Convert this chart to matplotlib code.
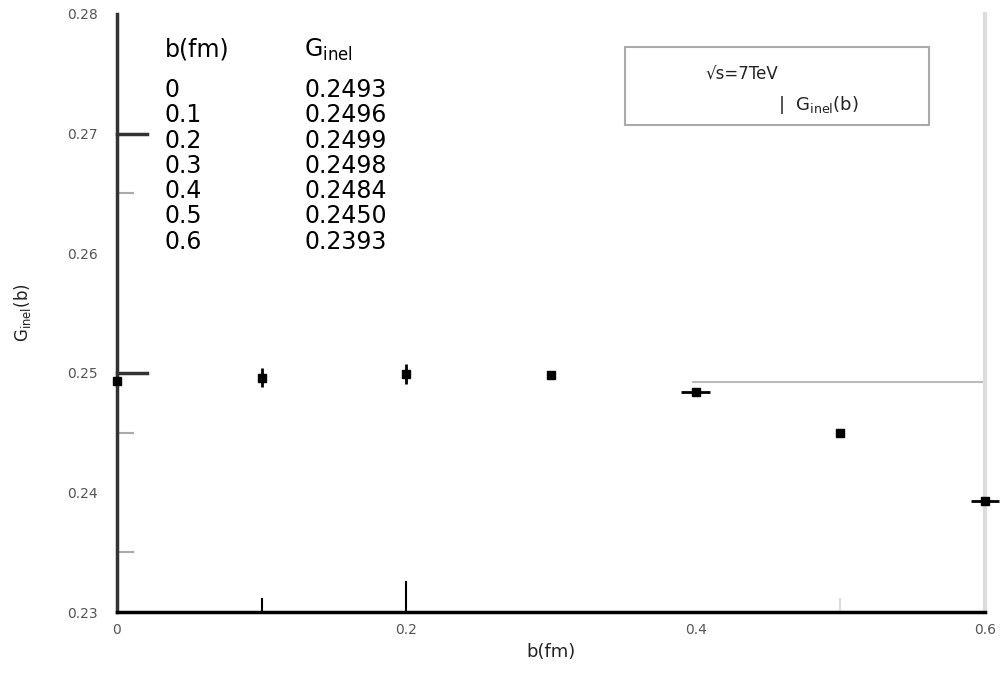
import matplotlib
matplotlib.use('Agg')
import matplotlib.pyplot as plt

# data
b = [0.0, 0.1, 0.2, 0.3, 0.4, 0.5, 0.6]
g_inel = [0.2493, 0.2496, 0.2499, 0.2498, 0.2484, 0.2450, 0.2393]
y_err = [0.0, 0.0008, 0.0008, 0.0, 0.0, 0.0, 0.0]
x_err = [0.0, 0.0, 0.0, 0.0, 0.01, 0.0, 0.01]
table_b = ["0", "0.1", "0.2", "0.3", "0.4", "0.5", "0.6"]
table_g = ["0.2493", "0.2496", "0.2499", "0.2498", "0.2484", "0.2450", "0.2393"]
y_ticks = [0.23, 0.24, 0.25, 0.26, 0.27, 0.28]
x_ticks = [0.0, 0.2, 0.4, 0.6]
x_tick_labels = ["0", "0.2", "0.4", "0.6"]

fig = plt.figure(figsize=(10.05, 6.73), dpi=100)
ax = fig.add_axes([0.1164, 0.0906, 0.8637, 0.8886])
ax.set_xlim(0, 0.6)
ax.set_ylim(0.23, 0.28)

# spines
ax.spines['top'].set_visible(False)
ax.spines['left'].set_color('#333333')
ax.spines['left'].set_linewidth(2.5)
ax.spines['bottom'].set_color('black')
ax.spines['bottom'].set_linewidth(2.5)
ax.spines['right'].set_color('#dddddd')
ax.spines['right'].set_linewidth(3)

# tick labels, marks drawn separately
ax.set_yticks(y_ticks)
ax.set_yticklabels([f"{v:.2f}" for v in y_ticks])
ax.set_xticks(x_ticks)
ax.set_xticklabels(x_tick_labels)
ax.tick_params(axis='both', length=0, labelsize=10, labelcolor='#555555')
ax.tick_params(axis='y', pad=14)
ax.tick_params(axis='x', pad=8)

ytr = ax.get_yaxis_transform()
xtr = ax.get_xaxis_transform()
for yv in [0.27, 0.25]:
    ax.plot([0, 0.035], [yv, yv], color='#333333', lw=2.5, transform=ytr, clip_on=False)
for yv in [0.265, 0.245, 0.235]:
    ax.plot([0, 0.018], [yv, yv], color='#aaaaaa', lw=1.5, transform=ytr, clip_on=False)
ax.plot([0.1, 0.1], [0, 0.022], color='black', lw=1.5, transform=xtr)
ax.plot([0.2, 0.2], [0, 0.05], color='black', lw=1.5, transform=xtr)
ax.plot([0.5, 0.5], [0, 0.022], color='#dddddd', lw=1.5, transform=xtr)

# stray gray line from the original scan
ax.plot([0.398, 0.6], [0.2492, 0.2492], color='#bbbbbb', lw=1.5)

ax.errorbar(b, g_inel, yerr=y_err, xerr=x_err, fmt='s', color='black',
            ms=6, elinewidth=2, capsize=0, clip_on=False, zorder=5)

ax.set_xlabel("b(fm)", fontsize=13, labelpad=4, color='#222222')
ax.set_ylabel(r"G$_{\rm inel}$(b)", fontsize=12, labelpad=24, color='#222222')

# value table
ax.text(0.055, 0.94, "b(fm)", transform=ax.transAxes, fontsize=17, va='center')
ax.text(0.216, 0.94, r"G$_{\mathrm{inel}}$", transform=ax.transAxes, fontsize=17, va='center')
row_y = 0.873
for bb, gg in zip(table_b, table_g):
    ax.text(0.055, row_y, bb, transform=ax.transAxes, fontsize=17, va='center')
    ax.text(0.216, row_y, gg, transform=ax.transAxes, fontsize=17, va='center')
    row_y -= 0.0423

# legend-like box
ax.text(0.678, 0.898, "\u221as=7TeV", transform=ax.transAxes, fontsize=12,
        ha='left', va='center', color='#222222')
ax.text(0.762, 0.848, r"|  G$_{\rm inel}$(b)", transform=ax.transAxes, fontsize=13,
        ha='left', va='center', color='#222222')
ax.add_patch(plt.Rectangle((0.585, 0.815), 0.35, 0.13, transform=ax.transAxes,
                           fill=False, edgecolor='#aaaaaa', lw=1.5))

fig.savefig('out.png', dpi=100)
